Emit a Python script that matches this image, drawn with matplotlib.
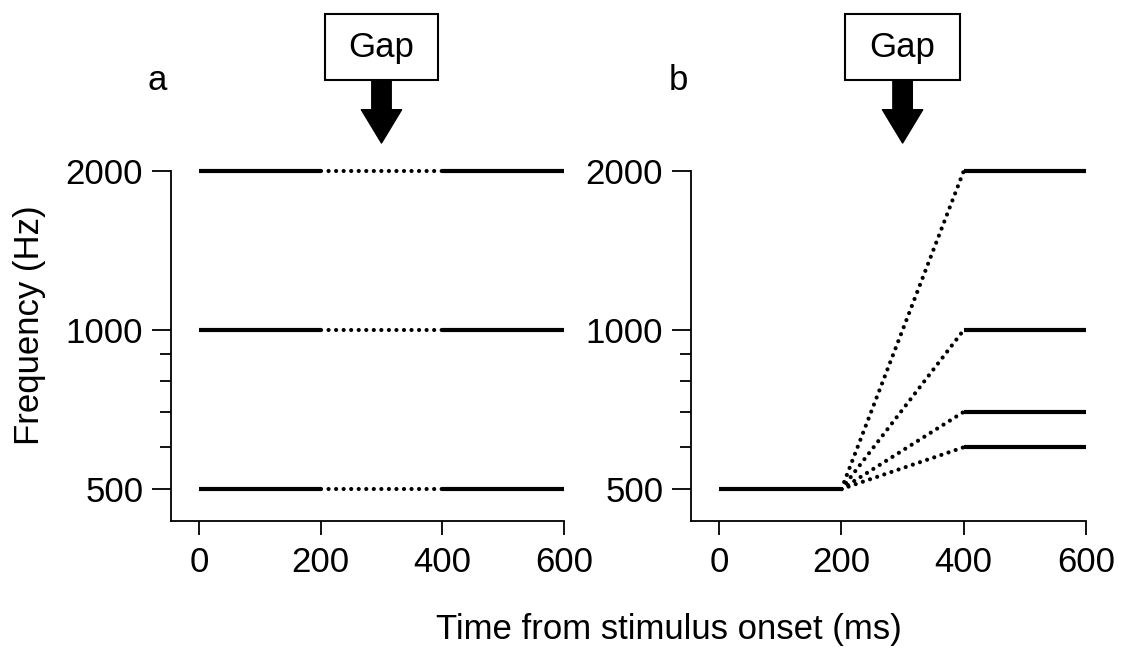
import matplotlib
matplotlib.use("Agg")
import matplotlib.pyplot as plt
from matplotlib.patches import Rectangle
from matplotlib.ticker import FixedLocator, NullFormatter

plt.rcParams['font.family'] = ['Liberation Sans', 'DejaVu Sans']

# stimulus segments (ms)
t_before = [0, 200]
t_gap = [200, 400]
t_after = [400, 600]
gap_center = 300

# panel a: steady tones
freqs_a = [500, 1000, 2000]
# panel b: start at 500 Hz, glide to these
freq_start_b = 500
freqs_b = [600, 700, 1000, 2000]

xticks = [0, 200, 400, 600]
yticks = [500, 1000, 2000]
yminor = [600, 700, 800, 900]

FS = 25
solid = dict(color='black', lw=3.0, solid_capstyle='butt', clip_on=False)
dotted = dict(color='black', lw=3.0, linestyle=(0, (0.01, 1.8)),
              dash_capstyle='round', clip_on=False)

fig = plt.figure(figsize=(11.28, 6.56), dpi=100)
ax_a = fig.add_axes([0.1516, 0.2058, 0.3484, 0.5335])
ax_b = fig.add_axes([0.6126, 0.2058, 0.3502, 0.5335])


def style_axes(ax):
    ax.set_yscale('log')
    ax.set_xlim(-46, 600)
    ax.set_ylim(435, 2000)
    ax.spines['top'].set_visible(False)
    ax.spines['right'].set_visible(False)
    for s in ('left', 'bottom'):
        ax.spines[s].set_linewidth(1.3)
    ax.set_xticks(xticks)
    ax.set_xticklabels([str(t) for t in xticks])
    ax.yaxis.set_major_locator(FixedLocator(yticks))
    ax.yaxis.set_minor_locator(FixedLocator(yminor))
    ax.yaxis.set_minor_formatter(NullFormatter())
    ax.set_yticklabels([str(f) for f in yticks])
    ax.tick_params(axis='x', length=10, width=1.3, pad=8, labelsize=FS)
    ax.tick_params(axis='y', which='major', length=14, width=1.3, pad=6, labelsize=FS)
    ax.tick_params(axis='y', which='minor', length=8, width=1.3)


def gap_marker(ax):
    tr = ax.get_xaxis_transform()
    ax.add_patch(Rectangle((gap_center - 93.5, 1.26), 187, 0.189, transform=tr,
                           facecolor='white', edgecolor='black', lw=1.5,
                           clip_on=False))
    ax.text(gap_center, 1.352, 'Gap', transform=tr, ha='center', va='center',
            fontsize=FS)
    ax.annotate('', xy=(gap_center, 1.08), xytext=(gap_center, 1.26),
                xycoords=tr, textcoords=tr,
                arrowprops=dict(arrowstyle='simple,head_length=24,head_width=29,tail_width=14',
                                mutation_scale=1, color='black', shrinkA=0, shrinkB=0),
                annotation_clip=False)


for f in freqs_a:
    ax_a.plot(t_before, [f, f], **solid)
    ax_a.plot(t_gap, [f, f], **dotted)
    ax_a.plot(t_after, [f, f], **solid)

ax_b.plot(t_before, [freq_start_b, freq_start_b], **solid)
for f in freqs_b:
    ax_b.plot(t_gap, [freq_start_b, f], **dotted)
    ax_b.plot(t_after, [f, f], **solid)

for ax in (ax_a, ax_b):
    style_axes(ax)
    gap_marker(ax)

fig.text(157 / 1128, 1 - 80 / 656, 'a', fontsize=FS, ha='center', va='center')
fig.text(678 / 1128, 1 - 80 / 656, 'b', fontsize=FS, ha='center', va='center')
fig.text(30 / 1128, 1 - 325 / 656, 'Frequency (Hz)', fontsize=FS, rotation=90,
         ha='center', va='center')
fig.text(669 / 1128, 1 - 630 / 656, 'Time from stimulus onset (ms)', fontsize=FS,
         ha='center', va='center')

fig.savefig('out.png', dpi=100)
